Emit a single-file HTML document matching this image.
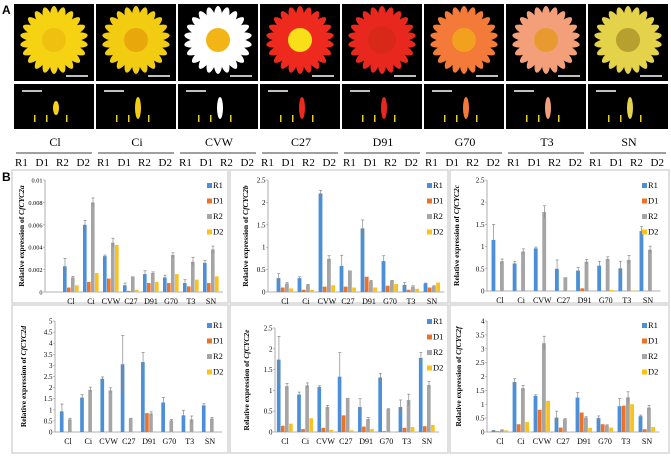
<!DOCTYPE html>
<html><head><meta charset="utf-8"><style>
body{margin:0;background:#fff;width:671px;height:455px;overflow:hidden;font-family:"Liberation Serif",serif}
svg text{font-family:"Liberation Serif",serif}
</style></head><body>
<svg id="fig" width="671" height="455" xmlns="http://www.w3.org/2000/svg">
<text x="2" y="14" font-weight="bold" font-size="12" style="font-family:'Liberation Sans',sans-serif">A</text>
<text x="2" y="181" font-weight="bold" font-size="12" style="font-family:'Liberation Sans',sans-serif">B</text>
<g id="photos"></g><g id="labels"></g><g id="charts"></g>
</svg>
<script>
const NS="http://www.w3.org/2000/svg";
function mk(tag,attrs,parent){const e=document.createElementNS(NS,tag);for(const k in attrs)e.setAttribute(k,attrs[k]);parent.appendChild(e);return e;}
const cultivars=["Cl","Ci","CVW","C27","D91","G70","T3","SN"];
const stages=["R1","D1","R2","D2"];
const petalCol=["#f5d312","#f2cc10","#ffffff","#ee2a1e","#e8281e","#f47a3a","#f3a07a","#e3d24a"];
const centerCol=["#f0c010","#e8a80c","#f3b515","#f7e01a","#d82818","#f2a020","#e89a30","#b8a030"];
const photos=document.getElementById('photos');
for(let i=0;i<8;i++){
  const x=14+i*82;
  const r=mk('rect',{x:x,y:4,width:80,height:77,fill:'#000'},photos);
  
  
  const cx=x+40,cy=40;
  for(let k=0;k<22;k++){const a=k*360/22;
    mk('ellipse',{cx:cx,cy:cy-20,rx:4.5,ry:14,fill:petalCol[i],transform:`rotate(${a} ${cx} ${cy})`},photos);}
  mk('circle',{cx:cx,cy:cy,r:(i==4?14:12),fill:centerCol[i]},photos);
  mk('line',{x1:x+52,y1:76,x2:x+74,y2:76,stroke:'#fff','stroke-width':1.5},photos);
  const p=mk('rect',{x:x,y:84,width:80,height:45,fill:'#000'},photos);
  
  
  mk('line',{x1:x+8,y1:91,x2:x+28,y2:91,stroke:'#fff','stroke-width':1.5},photos);
  mk('ellipse',{cx:x+42,cy:108,rx:3,ry:(i==0?7:11),fill:petalCol[i]},photos);
  for(const dx of [20,32,52]) mk('rect',{x:x+dx,y:115,width:1.5,height:7,fill:'#e8d020'},photos);
}
const labels=document.getElementById('labels');
for(let i=0;i<8;i++){
  const x=14+i*82;
  const t=mk('text',{x:x+41,y:146,'font-size':12,'text-anchor':'middle'},labels);t.textContent=cultivars[i];
  
  
  mk('line',{x1:x+2,y1:153,x2:x+78,y2:153,stroke:'#000','stroke-width':0.8},labels);
  for(let s=0;s<4;s++){const st=mk('text',{x:x+1+s*20.5,y:166,'font-size':11},labels);st.textContent=stages[s];
    
    }
}
const colors=["#4a8fd8","#ec7228","#a5a5a5","#fcc21a"];
const aR1=[.0023,.006,.0032,.0006,.0016,.0013,.0008,.0026],aD1=[.0004,.0009,.0012,.0001,.0008,.0008,.0005,.0008],aR2=[.0013,.008,.0044,.0014,.0017,.0033,.0027,.0038],aD2=[.0006,.0017,.0042,.0002,.0009,.0016,.0011,.0014];
const aE1=[.0007,.0004,.0001,.0002,.0003,.0002,.0003,.0002],aE2=[.0001,.0004,.0004,0,.0001,.0002,.0004,.0003];
const aTicks=["0","0.002","0.004","0.006","0.008","0.01"];
const bR1=[.31,.31,2.2,.58,1.42,.69,.16,.19],bD1=[.1,.05,.12,.12,.34,.14,.05,.1],bR2=[.19,.16,.74,.48,.24,.25,.12,.13],bD2=[.08,.05,.15,.1,.1,.18,.07,.21];
const bE1=[.1,.03,.07,.24,.19,.12,.05,.01],bE2=[.02,.01,.07,0,.02,.01,.02,.01];
const bTicks=["0","0.5","1","1.5","2","2.5"];
const cR1=[1.15,.62,.96,.5,.46,.57,.51,1.35],cD1=[0,0,0,0,.06,0,0,0],cR2=[.67,.89,1.78,.31,.66,.72,.7,.93],cD2=[0,0,0,0,0,.02,.01,0];
const cE1=[.35,.05,.03,.2,.07,.1,.16,.1],cE2=[.05,.06,.14,0,.05,.05,.1,.08];
const cTicks=["0","0.5","1","1.5","2","2.5"];
const dR1=[.93,1.55,2.4,3.05,3.15,1.33,.75,1.2],dD1=[0,0,0,0,.85,0,0,0],dR2=[.57,1.9,1.87,.6,.83,.52,.57,.6],dD2=[0,0,.02,0,0,0,.02,0];
const dE1=[.33,.13,.08,1.3,.43,.23,.23,.08],dE2=[.05,.12,.12,.02,.08,.05,.15,.06];
const dTicks=["0","0.5","1","1.5","2","2.5","3","3.5","4","4.5","5"];
const eR1=[1.74,.9,1.08,1.33,.6,1.31,.6,1.78],eD1=[.15,.07,.1,.4,.13,.02,.1,.14],eR2=[1.1,1.12,.6,.82,.31,.55,.77,1.13],eD2=[.2,.33,.05,.04,.07,.01,.12,.17];
const eE1=[.56,.06,.03,.58,.2,.1,.17,.13],eE2=[.07,.06,.04,0,.04,.01,.14,.08];
const eTicks=["0","0.5","1","1.5","2","2.5"];
const fR1=[.05,1.8,1.3,.52,1.24,.5,.93,.57],fD1=[.03,.28,.8,.16,.7,.28,.95,.1],fR2=[.07,1.58,3.2,.46,.52,.24,1.25,.88],fD2=[.06,.36,1.12,.02,.15,.16,1.0,.18];
const fE1=[.01,.12,.04,.23,.18,.08,.28,.04],fE2=[.01,.1,.25,.02,.03,.02,.2,.08];
const fTicks=["0","0.5","1","1.5","2","2.5","3","3.5","4"];
const charts=[
 {name:'CfCYC2a',px:12,py:170,pw:216,ph:133,ax:45,to:21,tf:6.3,y0:292,yt:180,max:.01,c0:71,c1:211,series:[aR1,aD1,aR2,aD2],err:[aE1,aE2],ticks:aTicks,lx:207,ly:188},
 {name:'CfCYC2b',px:230,py:170,pw:218,ph:133,ax:268,to:20,tf:7,y0:292,yt:180,max:2.5,c0:285,c1:432,series:[bR1,bD1,bR2,bD2],err:[bE1,bE2],ticks:bTicks,lx:427,ly:188},
 {name:'CfCYC2c',px:450,py:170,pw:219,ph:133,ax:487,to:28,tf:7,y0:291,yt:180,max:2.5,c0:500,c1:648,series:[cR1,cD1,cR2,cD2],err:[cE1,cE2],ticks:cTicks,lx:642,ly:188},
 {name:'CfCYC2d',px:12,py:305,pw:216,ph:148,ax:55,to:29,tf:7,y0:432,yt:321,max:5,c0:68,c1:210,series:[dR1,dD1,dR2,dD2],err:[dE1,dE2],ticks:dTicks,lx:207,ly:328},
 {name:'CfCYC2e',px:230,py:305,pw:218,ph:148,ax:275,to:26,tf:7,y0:432,yt:328,max:2.5,c0:285,c1:427,series:[eR1,eD1,eR2,eD2],err:[eE1,eE2],ticks:eTicks,lx:427,ly:324},
 {name:'CfCYC2f',px:450,py:305,pw:219,ph:148,ax:487,to:26,tf:7,y0:432,yt:321,max:4,c0:500,c1:647,series:[fR1,fD1,fR2,fD2],err:[fE1,fE2],ticks:fTicks,lx:642,ly:328}
];
const root=document.getElementById('charts');
charts.forEach(c=>{
  const g=mk('g',{},root);
  
  
  mk('rect',{x:c.px,y:c.py,width:c.pw,height:c.ph,fill:'none',stroke:'#d6d6d6','stroke-width':1.5},g);
  const Y=v=>c.y0-(v/c.max)*(c.y0-c.yt);
  const pitch=(c.c1-c.c0)/7;
  const X=i=>c.c0+i*pitch;
  mk('line',{x1:c.ax,y1:c.yt,x2:c.ax,y2:c.y0,stroke:'#999','stroke-width':0.8},g);
  mk('line',{x1:c.ax,y1:c.y0,x2:c.c1+pitch/2+2,y2:c.y0,stroke:'#999','stroke-width':0.8},g);
  const n=c.ticks.length;
  c.ticks.forEach((t,k)=>{const v=c.max*k/(n-1);
    mk('line',{x1:c.ax-2,y1:Y(v),x2:c.ax,y2:Y(v),stroke:'#999','stroke-width':0.6},g);
    const tx=mk('text',{x:c.ax-2.5,y:Y(v)+2.5,'font-size':c.tf,'text-anchor':'end'},g);tx.textContent=t;
    
    });
  const yt=mk('text',{x:0,y:0,'font-size':7.5,'font-weight':'bold','text-anchor':'middle',transform:`translate(${c.ax-c.to},${(c.y0+c.yt)/2}) rotate(-90)`},g);
  yt.innerHTML='Relative expression of <tspan font-style="italic">'+c.name+'</tspan>';
  
  
  cultivars.forEach((cv,i)=>{
    const xl=mk('text',{x:X(i),y:c.y0+12,'font-size':8,'text-anchor':'middle'},g);xl.textContent=cv;
    
    
    c.series.forEach((s,j)=>{
      const bw=pitch*0.2,bx=X(i)-2*bw+j*bw;
      const r=mk('rect',{x:bx,y:Y(s[i]),width:bw-0.4,height:c.y0-Y(s[i]),fill:colors[j]},g);
      
      
      if(j==0||j==2){const e=c.err[j/2][i];if(e>0){const cx=bx+bw/2;
        mk('line',{x1:cx,y1:Y(s[i]-e),x2:cx,y2:Y(s[i]+e),stroke:'#888','stroke-width':0.7},g);
        mk('line',{x1:cx-1.5,y1:Y(s[i]+e),x2:cx+1.5,y2:Y(s[i]+e),stroke:'#888','stroke-width':0.7},g);}}
    });
  });
  stages.forEach((st,j)=>{
    const ly=c.ly+j*15.5;
    const sw=mk('rect',{x:c.lx,y:ly-5,width:5,height:5,fill:colors[j]},g);
    
    
    const lt=mk('text',{x:c.lx+6,y:ly,'font-size':8.5},g);lt.textContent=st;
    
    
  });
});
</script>
</body></html>
